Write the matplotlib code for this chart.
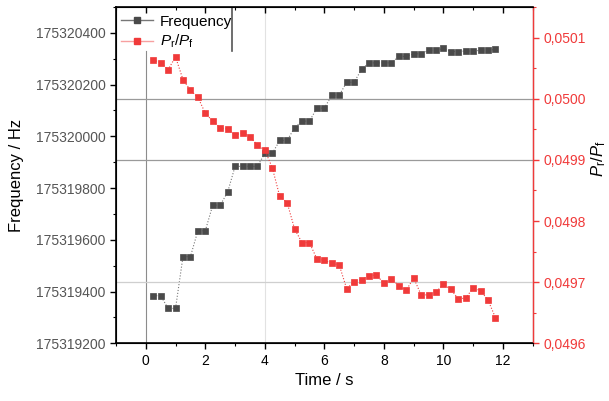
import matplotlib
matplotlib.use("Agg")
import matplotlib.pyplot as plt
from matplotlib.lines import Line2D
from matplotlib.ticker import FuncFormatter, MultipleLocator

plt.rcParams["font.family"] = ["Liberation Sans", "DejaVu Sans"]
plt.rcParams["mathtext.fontset"] = "custom"
plt.rcParams["mathtext.it"] = "Liberation Sans:italic"
plt.rcParams["mathtext.rm"] = "Liberation Sans"

time_s = [0.25, 0.5, 0.75, 1.0, 1.25, 1.5, 1.75, 2.0, 2.25, 2.5, 2.75, 3.0,
          3.25, 3.5, 3.75, 4.0, 4.25, 4.5, 4.75, 5.0, 5.25, 5.5, 5.75, 6.0,
          6.25, 6.5, 6.75, 7.0, 7.25, 7.5, 7.75, 8.0, 8.25, 8.5, 8.75, 9.0,
          9.25, 9.5, 9.75, 10.0, 10.25, 10.5, 10.75, 11.0, 11.25, 11.5, 11.75]

frequency_hz = [175319384, 175319384, 175319335, 175319335, 175319535, 175319535,
                175319635, 175319635, 175319734, 175319734, 175319784, 175319884,
                175319884, 175319884, 175319884, 175319934, 175319934, 175319984,
                175319984, 175320034, 175320059, 175320059, 175320109, 175320109,
                175320159, 175320159, 175320209, 175320209, 175320259, 175320284,
                175320284, 175320284, 175320284, 175320309, 175320309, 175320319,
                175320319, 175320332, 175320332, 175320340, 175320328, 175320328,
                175320330, 175320329, 175320333, 175320333, 175320336]

power_ratio = [0.0500635, 0.0500591, 0.0500476, 0.0500684, 0.0500313, 0.0500139,
               0.0500025, 0.0499763, 0.0499632, 0.0499528, 0.0499501, 0.0499403,
               0.0499446, 0.0499375, 0.0499244, 0.0499158, 0.0498873, 0.0498405,
               0.0498300, 0.0497870, 0.0497646, 0.0497646, 0.0497379, 0.0497358,
               0.0497309, 0.0497281, 0.0496893, 0.0497008, 0.0497041, 0.0497106,
               0.0497118, 0.0496982, 0.0497057, 0.0496942, 0.0496867, 0.0497068,
               0.0496795, 0.0496790, 0.0496839, 0.0496965, 0.0496883, 0.0496725,
               0.0496741, 0.0496905, 0.0496861, 0.0496704, 0.0496419]

ratio_ref_lines = [0.0500, 0.0499, 0.0497]

BLACK = "#4a4a4a"
RED = "#f03a3a"

fig = plt.figure(figsize=(6.09, 4.01), dpi=100)
ax = fig.add_axes([0.1905, 0.1439, 0.8747 - 0.1905, 0.9825 - 0.1439])
ax2 = ax.twinx()

# reference lines
ax.axvline(4, color="#e2e2e2", lw=0.8, zorder=0)
ax.axvline(0, ymax=0.869, color="#8c8c8c", lw=0.8, zorder=0)
ax.axvline(2.91, ymin=0.869, color="#555555", lw=1.2, zorder=0)
for v, c in zip(ratio_ref_lines, ["#9a9a9a", "#9a9a9a", "#cfcfcf"]):
    ax2.axhline(v, color=c, lw=0.9, zorder=0)

ax.plot(time_s, frequency_hz, ls=":", lw=0.8, color="#777777",
        marker="s", ms=5, mfc=BLACK, mec=BLACK, mew=0.5)
ax2.plot(time_s, power_ratio, ls=":", lw=0.8, color=RED,
         marker="s", ms=5, mfc=RED, mec=RED, mew=0.5)

ax.set_xlim(-1, 13)
ax.set_ylim(175319200, 175320500)
ax2.set_ylim(0.0496, 0.05015)

ax.xaxis.set_major_locator(MultipleLocator(2))
ax.xaxis.set_minor_locator(MultipleLocator(1))
ax.yaxis.set_major_locator(MultipleLocator(200))
ax.yaxis.set_minor_locator(MultipleLocator(100))
ax.yaxis.set_major_formatter(FuncFormatter(lambda v, p: f"{v:.0f}"))
ax2.yaxis.set_major_locator(MultipleLocator(0.0001))
ax2.yaxis.set_minor_locator(MultipleLocator(0.00005))
ax2.yaxis.set_major_formatter(FuncFormatter(lambda v, p: f"{v:.4f}".replace(".", ",")))

ax.tick_params(axis="x", which="both", direction="out", top=True, labelsize=10)
ax.tick_params(axis="x", which="major", length=4, width=1)
ax.tick_params(axis="x", which="minor", length=2.5, width=0.8)
ax.tick_params(axis="y", which="major", length=4, width=1, labelsize=10, labelcolor="#555555")
ax.tick_params(axis="y", which="minor", length=2.5, width=0.8)
ax.tick_params(axis="y", which="both", right=False)
# top ticks point inward
for t in ax.xaxis.get_major_ticks() + ax.xaxis.get_minor_ticks():
    t.tick2line.set_marker(3)

ax2.tick_params(axis="y", which="major", length=4, width=1, color=RED, labelcolor=RED, labelsize=10)
ax2.tick_params(axis="y", which="minor", length=2.5, width=0.8, color=RED)
ax2.spines["right"].set_color(RED)
ax2.spines["right"].set_linewidth(1)

for s in ["left", "bottom", "top"]:
    ax.spines[s].set_linewidth(1.2)

ax.set_xlabel("Time / s", fontsize=12)
ax.set_ylabel("Frequency / Hz", fontsize=12)
ax2.set_ylabel(r"$P_\mathrm{r}/P_\mathrm{f}$", fontsize=12)
ax.yaxis.set_label_coords(-0.22, 0.5)
ax2.yaxis.set_label_coords(1.136, 0.55)

handles = [
    Line2D([], [], color="#777777", lw=1, marker="s", ms=5, mfc=BLACK, mec=BLACK),
    Line2D([], [], color="#f7a0a0", lw=1, marker="s", ms=5, mfc=RED, mec=RED),
]
ax2.legend(handles, ["Frequency", r"$P_\mathrm{r}/P_\mathrm{f}$"], loc="upper left",
           bbox_to_anchor=(-0.01, 1.005), frameon=False, fontsize=11,
           handlelength=2.1, handletextpad=0.45, labelspacing=0.3, borderaxespad=0.2)

fig.savefig("out.png", dpi=100)
